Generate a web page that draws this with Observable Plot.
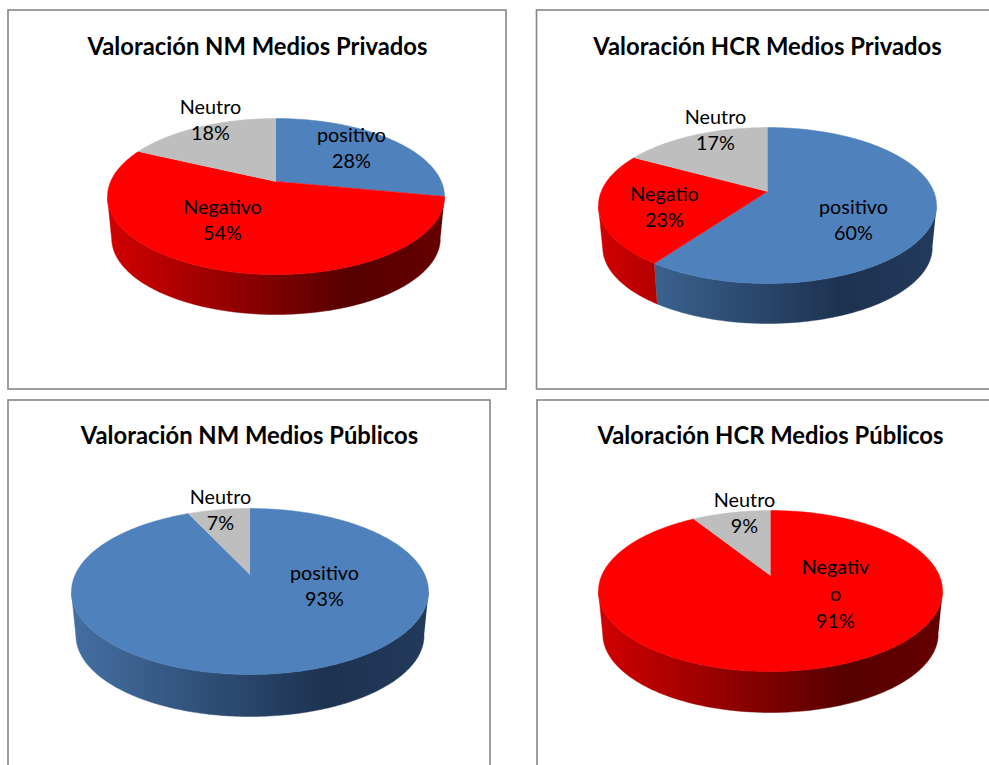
<!DOCTYPE html>
<html lang="es">
<head>
<meta charset="utf-8">
<style>
html,body{margin:0;padding:0;background:#fff;overflow:hidden}
svg{display:block}
</style>
<script src="https://cdn.jsdelivr.net/npm/d3@7"></script>
<script src="https://cdn.jsdelivr.net/npm/@observablehq/plot@0.6"></script>
</head>
<body>
<div id="chart"></div>
<script>
// ---- data ----
const titles = ["Valoración NM Medios Privados","Valoración HCR Medios Privados","Valoración NM Medios Públicos","Valoración HCR Medios Públicos"];
const nmPrivCats = ["positivo","Negativo","Neutro"];
const nmPrivVals = [28,54,18];
const nmPrivText = ["positivo","Negativo","Neutro"];
const hcrPrivCats = ["positivo","Negativo","Neutro"];
const hcrPrivVals = [60,23,17];
const hcrPrivText = ["positivo","Negatio","Neutro"];
const nmPubCats = ["positivo","Neutro"];
const nmPubVals = [93,7];
const nmPubText = ["positivo","Neutro"];
const hcrPubCats = ["Negativo","Neutro"];
const hcrPubVals = [91,9];
const hcrPubText = ["Negativ\no","Neutro"];

// ---- styling and layout ----
const colors = {positivo:"#4f81bd", Negativo:"#ff0000", Neutro:"#bebebe"};
const sideStops = {
  positivo:[[0,"#446fa2"],[.72,"#1d3250"],[1,"#223a5c"]],
  Negativo:[[0,"#d20000"],[.72,"#560000"],[1,"#660000"]],
  Neutro:[[0,"#a0a0a0"],[1,"#555555"]]
};
const panels = [
  {frame:[8,506,10,389], titleAt:[257,47], cx:275.5,cy:196,rx:168.5,ry:78,ay:181,depth:40,
   cats:nmPrivCats,vals:nmPrivVals,text:nmPrivText,labelAt:[[351,146],[222,218],[210,118]]},
  {frame:[536.5,1010,10,389], titleAt:[767,47], cx:767,cy:205,rx:169,ry:78,ay:191,depth:40,
   cats:hcrPrivCats,vals:hcrPrivVals,text:hcrPrivText,labelAt:[[853,218],[664,205],[715,128]]},
  {frame:[8,490,400,800], titleAt:[249,436], cx:249.5,cy:591,rx:178.5,ry:83,ay:574,depth:42,
   cats:nmPubCats,vals:nmPubVals,text:nmPubText,labelAt:[[324,584],[220,508]]},
  {frame:[537,1010,400,800], titleAt:[770,436], cx:770,cy:590.5,rx:172,ry:80.5,ay:575,depth:41,
   cats:hcrPubCats,vals:hcrPubVals,text:hcrPubText,labelAt:[[835,592],[744,511]]}
];
const bottomScale = 0.975;
const labelFont = {fontFamily:"Lato, 'Open Sans', sans-serif", fontSize:19.8, lineHeight:1.34, fill:"#000", textAnchor:"middle"};

// ---- geometry derived from the values ----
function ellipseParam(p, th){           // ray from the apex, unit-ellipse coordinates
  const p0 = (p.ay - p.cy) / p.ry, dx = Math.sin(th), dy = -Math.cos(th);
  const b = p0 * dy, s = -b + Math.sqrt(b*b - (p0*p0 - 1));
  return [dx * s, p0 + dy * s];
}
function sampleThetas(a0, a1){
  const n = Math.max(2, Math.ceil((a1 - a0) / (Math.PI/180)));
  return d3.range(n + 1).map(i => a0 + (a1 - a0) * i / n);
}
function panelMarks(p, pi){
  const marks = [];
  marks.push(Plot.rect([p.frame], {x1:d=>d[0], x2:d=>d[1], y1:d=>d[2], y2:d=>d[3], fill:"#fff", stroke:"#868686", strokeWidth:1.6}));
  const total = d3.sum(p.vals);
  const cum = d3.cumsum(p.vals);
  const slices = p.cats.map((c,i)=>({cat:c, a0:(i?cum[i-1]:0)/total*2*Math.PI, a1:cum[i]/total*2*Math.PI}));
  const brx = p.rx*bottomScale, bry = p.ry*bottomScale;
  const bcy = p.cy + p.ry + p.depth - bry;
  // sides
  slices.forEach(s=>{
    const pts = sampleThetas(s.a0,s.a1).map(t=>ellipseParam(p,t)).filter(u=>u[1]>=0);
    if(pts.length<2) return;
    const top = pts.map(u=>({x:p.cx+u[0]*p.rx, y:p.cy+u[1]*p.ry}));
    const bot = pts.map(u=>({x:p.cx+u[0]*brx, y:bcy+u[1]*bry})).reverse();
    const fill = `url(#side-${pi}-${s.cat})`;
    marks.push(Plot.line([...top,...bot],{x:"x",y:"y",fill,stroke:fill,strokeWidth:.5}));
  });
  // top faces
  slices.forEach(s=>{
    const arc = sampleThetas(s.a0,s.a1).map(t=>{const u=ellipseParam(p,t);return {x:p.cx+u[0]*p.rx,y:p.cy+u[1]*p.ry};});
    const poly = [{x:p.cx,y:p.ay},...arc];
    marks.push(Plot.line(poly,{x:"x",y:"y",fill:colors[s.cat],stroke:colors[s.cat],strokeWidth:.5}));
  });
  // labels
  marks.push(Plot.text(p.vals.map((v,i)=>({t:`${p.text[i]}\n${v}%`,x:p.labelAt[i][0],y:p.labelAt[i][1]})),
    {x:"x",y:"y",text:"t",...labelFont}));
  // title
  marks.push(Plot.text([titles[pi]],{x:()=>p.titleAt[0],y:()=>p.titleAt[1],text:d=>d,
    fontFamily:"Lato, 'Open Sans', sans-serif",fontWeight:700,fontSize:23.8,fill:"#000",textAnchor:"middle"}));
  return marks;
}

const svg = Plot.plot({
  width:989, height:765, margin:0,
  style:{background:"#fff", overflow:"hidden"},
  x:{domain:[0,989], range:[0,989], axis:null},
  y:{domain:[0,765], range:[0,765], axis:null},
  marks: panels.flatMap(panelMarks)
});

// horizontal shading of the pie walls, spanning each pie
const defs = d3.select(svg).insert("defs",":first-child");
panels.forEach((p,pi)=>{
  Object.entries(sideStops).forEach(([cat,stops])=>{
    const g = defs.append("linearGradient").attr("id",`side-${pi}-${cat}`)
      .attr("gradientUnits","userSpaceOnUse")
      .attr("x1",p.cx-p.rx).attr("x2",p.cx+p.rx).attr("y1",0).attr("y2",0);
    stops.forEach(([o,c])=>g.append("stop").attr("offset",o).attr("stop-color",c));
  });
});
document.getElementById("chart").append(svg);
</script>
</body>
</html>
